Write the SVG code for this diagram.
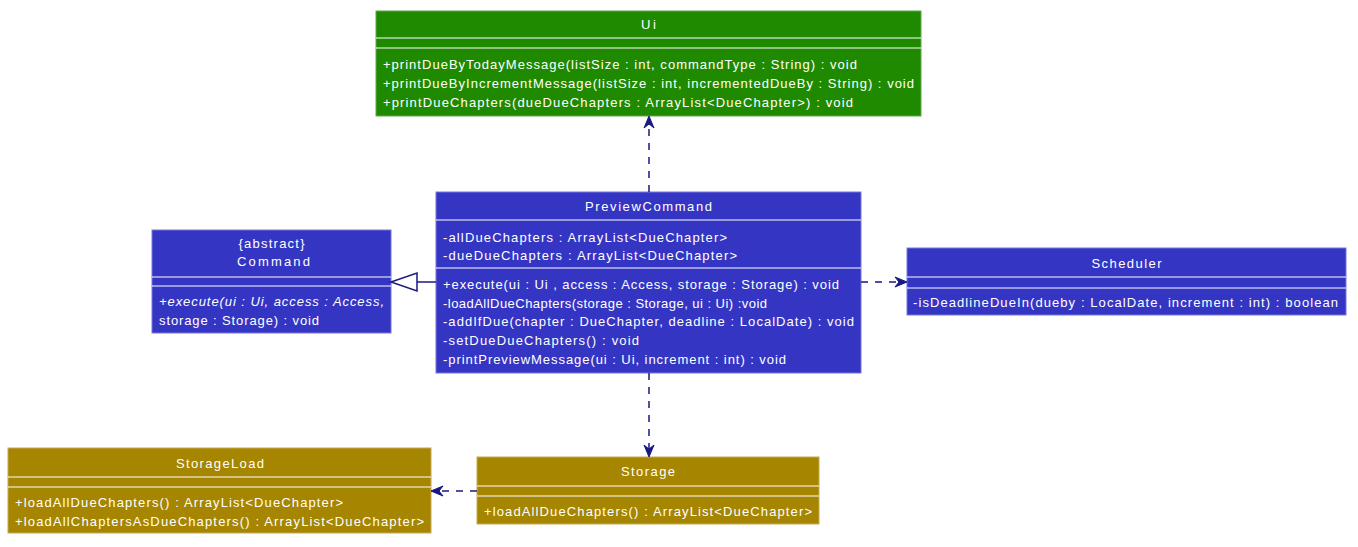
<svg xmlns="http://www.w3.org/2000/svg" width="1358" height="547" viewBox="0 0 1358 547">
<style>
text{font-family:"Liberation Sans",Arial,sans-serif;font-size:13px;fill:#FFFFFF;}
.t{text-anchor:middle;}
.i{font-style:italic;}
.g{fill:#1F8A00;stroke:#5FAA4A;stroke-width:1;}
.b{fill:#3535C4;stroke:#7777DD;stroke-width:1;}
.y{fill:#A68500;stroke:#C6AA55;stroke-width:1;}
.sep{stroke:#FFFFFF;stroke-width:1;}
.dep{stroke:#181880;stroke-width:1.5;stroke-dasharray:7,7;fill:none;}
.head{fill:#181880;stroke:#181880;stroke-width:1;}
</style>
<rect width="1358" height="547" fill="#FFFFFF"/>
<g id="Ui">
<rect class="g" x="376" y="11" width="545" height="105"/>
<line class="sep" x1="376" y1="38" x2="921" y2="38"/>
<line class="sep" x1="376" y1="48" x2="921" y2="48"/>
<text class="t" x="648.5" y="29" textLength="15" lengthAdjust="spacing">Ui</text>
<text x="383" y="69" textLength="474" lengthAdjust="spacing">+printDueByTodayMessage(listSize : int, commandType : String) : void</text>
<text x="383" y="88" textLength="531" lengthAdjust="spacing">+printDueByIncrementMessage(listSize : int, incrementedDueBy : String) : void</text>
<text x="383" y="107" textLength="470" lengthAdjust="spacing">+printDueChapters(dueDueChapters : ArrayList&lt;DueChapter&gt;) : void</text>
</g>
<g id="PreviewCommand">
<rect class="b" x="436" y="192" width="425" height="181"/>
<line class="sep" x1="436" y1="220" x2="861" y2="220"/>
<line class="sep" x1="436" y1="268" x2="861" y2="268"/>
<text class="t" x="648.5" y="211" textLength="127" lengthAdjust="spacing">PreviewCommand</text>
<text x="443" y="242" textLength="284" lengthAdjust="spacing">-allDueChapters : ArrayList&lt;DueChapter&gt;</text>
<text x="443" y="260" textLength="294" lengthAdjust="spacing">-dueDueChapters : ArrayList&lt;DueChapter&gt;</text>
<text x="443" y="289" textLength="396" lengthAdjust="spacing">+execute(ui : Ui , access : Access, storage : Storage) : void</text>
<text x="443" y="308" textLength="324" lengthAdjust="spacing">-loadAllDueChapters(storage : Storage, ui : Ui) :void</text>
<text x="443" y="326" textLength="411" lengthAdjust="spacing">-addIfDue(chapter : DueChapter, deadline : LocalDate) : void</text>
<text x="443" y="345" textLength="196" lengthAdjust="spacing">-setDueDueChapters() : void</text>
<text x="443" y="364" textLength="343" lengthAdjust="spacing">-printPreviewMessage(ui : Ui, increment : int) : void</text>
</g>
<g id="Command">
<rect class="b" x="152" y="230" width="239" height="103"/>
<line class="sep" x1="152" y1="277" x2="391" y2="277"/>
<line class="sep" x1="152" y1="286" x2="391" y2="286"/>
<text class="t" x="271.5" y="248" textLength="66" lengthAdjust="spacing">{abstract}</text>
<text class="t" x="273.5" y="266" textLength="73" lengthAdjust="spacing">Command</text>
<text class="i" x="159" y="306" textLength="225" lengthAdjust="spacing">+execute(ui : Ui, access : Access,</text>
<text x="159" y="325" textLength="160" lengthAdjust="spacing">storage : Storage) : void</text>
</g>
<g id="Scheduler">
<rect class="b" x="907" y="248" width="439" height="67"/>
<line class="sep" x1="907" y1="277" x2="1346" y2="277"/>
<line class="sep" x1="907" y1="288" x2="1346" y2="288"/>
<text class="t" x="1126.5" y="268" textLength="70" lengthAdjust="spacing">Scheduler</text>
<text x="913" y="307" textLength="425" lengthAdjust="spacing">-isDeadlineDueIn(dueby : LocalDate, increment : int) : boolean</text>
</g>
<g id="StorageLoad">
<rect class="y" x="8" y="448" width="423" height="85"/>
<line class="sep" x1="8" y1="477" x2="431" y2="477"/>
<line class="sep" x1="8" y1="487" x2="431" y2="487"/>
<text class="t" x="220" y="468" textLength="88" lengthAdjust="spacing">StorageLoad</text>
<text x="15" y="507" textLength="328" lengthAdjust="spacing">+loadAllDueChapters() : ArrayList&lt;DueChapter&gt;</text>
<text x="15" y="526" textLength="409" lengthAdjust="spacing">+loadAllChaptersAsDueChapters() : ArrayList&lt;DueChapter&gt;</text>
</g>
<g id="Storage">
<rect class="y" x="477" y="457" width="342" height="67"/>
<line class="sep" x1="477" y1="486" x2="819" y2="486"/>
<line class="sep" x1="477" y1="496" x2="819" y2="496"/>
<text class="t" x="648" y="476" textLength="54" lengthAdjust="spacing">Storage</text>
<text x="484" y="516" textLength="328" lengthAdjust="spacing">+loadAllDueChapters() : ArrayList&lt;DueChapter&gt;</text>
</g>
<g id="connectors">
<line class="dep" x1="649" y1="192" x2="649" y2="121"/>
<polygon class="head" points="649,116 644,128 649,124 654,128"/>
<line class="dep" x1="649" y1="373" x2="649" y2="451"/>
<polygon class="head" points="649,457 644,445 649,449 654,445"/>
<line class="dep" x1="861" y1="282" x2="901" y2="282"/>
<polygon class="head" points="907,282 895,277 899,282 895,287"/>
<line class="dep" x1="477" y1="491" x2="437" y2="491"/>
<polygon class="head" points="431,491 443,486 439,491 443,496"/>
<line x1="417" y1="282" x2="436" y2="282" stroke="#181880" stroke-width="1.5"/>
<polygon points="391,282 417,273 417,291" fill="#FFFFFF" stroke="#181880" stroke-width="1.5"/>
</g>
</svg>
